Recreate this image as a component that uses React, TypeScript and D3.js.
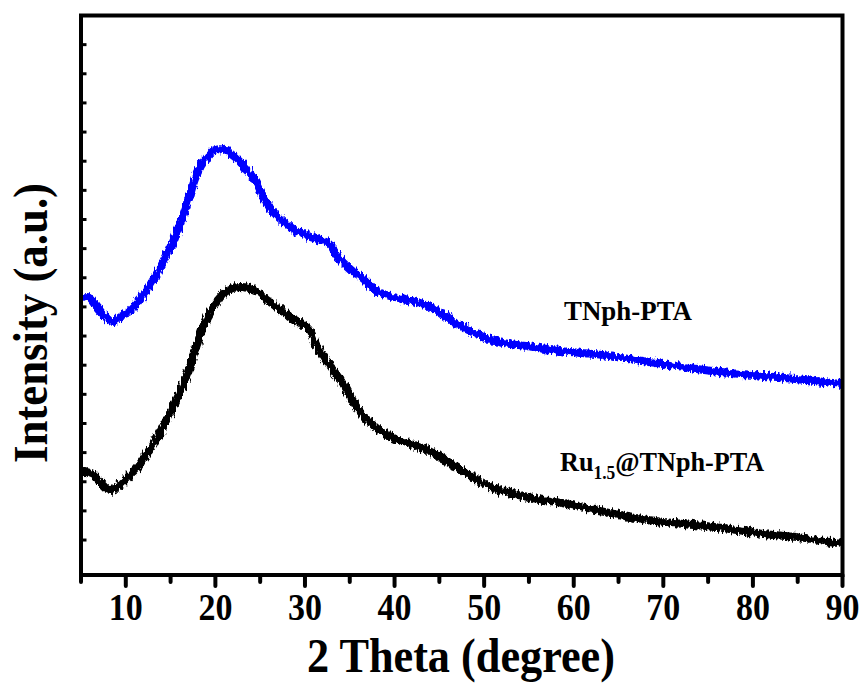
import React from "react";
import * as d3 from "d3";

// ---- data ----
const tnphAngle = [5, 5.9, 6.8, 7.9, 8.5, 9.4, 10.5, 12.1, 13.5, 14.7, 15.8, 16.9, 17.8, 18.8, 19.9, 21.0, 22.2, 23.3, 24.4, 25.5, 27.0, 28.9, 30.7, 32.6, 33.7, 35.2, 36.7, 37.8, 39.9, 43.6, 47.4, 51.1, 54.9, 58.7, 62.4, 66.2, 70.0, 73.7, 77.5, 81.2, 85.0, 90];
const tnphIntensity = [830, 833, 799, 761, 748, 765, 789, 847, 916, 984, 1063, 1156, 1245, 1303, 1338, 1338, 1314, 1279, 1235, 1166, 1108, 1063, 1039, 1019, 971, 926, 892, 858, 833, 806, 734, 683, 665, 648, 638, 621, 604, 587, 573, 563, 552, 535];

const ruAngle = [5, 6.0, 7.2, 8.1, 9.1, 10.2, 11.3, 12.4, 13.5, 14.7, 15.8, 16.9, 18.0, 19.1, 20.3, 21.4, 22.8, 24.4, 25.8, 27.3, 28.9, 30.3, 31.4, 32.9, 34.5, 36.0, 38.0, 39.9, 43.6, 47.4, 51.1, 54.9, 58.7, 62.4, 66.2, 70.0, 73.7, 77.5, 81.2, 85.0, 90];
const ruIntensity = [233, 230, 196, 172, 182, 216, 250, 298, 353, 422, 490, 573, 676, 765, 823, 858, 868, 858, 823, 789, 755, 731, 662, 593, 525, 446, 384, 350, 309, 240, 178, 147, 127, 103, 79, 62, 51, 38, 21, 10, -14];

const xMajorTicks = [10, 20, 30, 40, 50, 60, 70, 80, 90];
const xMinorTicks = [5, 15, 25, 35, 45, 55, 65, 75, 85];
const yTicks = [0, 100, 200, 300, 400, 500, 600, 700, 800, 900, 1000, 1100, 1200, 1300, 1400, 1500, 1600, 1700];

const W = 865;
const H = 684;
const left = 81;
const right = 842.5;
const top = 15.5;
const bottom = 575;

const FONT = "'Liberation Serif', 'Times New Roman', serif";

export default function App() {
  const x = d3.scaleLinear().domain([5, 90]).range([left, right]);
  const y = d3.scaleLinear().domain([-120, 1800]).range([bottom, top]);

  const line = d3
    .line<[number, number]>()
    .x((d) => x(d[0]))
    .y((d) => y(d[1]))
    .curve(d3.curveCatmullRom.alpha(0.5));

  const tnph = tnphAngle.map((a, i) => [a, tnphIntensity[i]] as [number, number]);
  const ru = ruAngle.map((a, i) => [a, ruIntensity[i]] as [number, number]);

  return (
    <svg
      width={W}
      height={H}
      style={{ position: "absolute", left: 0, top: 0, display: "block", background: "#fff" }}
    >
      <defs>
        <filter id="noise" x="-5%" y="-20%" width="110%" height="140%">
          <feTurbulence type="fractalNoise" baseFrequency="0.5 0.12" numOctaves="2" seed="3" result="t" />
          <feDisplacementMap in="SourceGraphic" in2="t" scale="8" xChannelSelector="R" yChannelSelector="G" />
        </filter>
        <clipPath id="plotclip">
          <rect x={left} y={top} width={right - left} height={bottom - top} />
        </clipPath>
      </defs>

      {/* data lines */}
      <g clipPath="url(#plotclip)">
        <path d={line(ru) || ""} fill="none" stroke="#000" strokeWidth={8} strokeLinejoin="round" filter="url(#noise)" />
        <path d={line(tnph) || ""} fill="none" stroke="#0000ff" strokeWidth={8} strokeLinejoin="round" filter="url(#noise)" />
      </g>

      {/* frame */}
      <rect x={left} y={top} width={right - left} height={bottom - top} fill="none" stroke="#000" strokeWidth={4} />

      {/* y ticks (inward, unlabeled) */}
      {yTicks.map((t) => (
        <line key={"y" + t} x1={left} x2={left + 5.5} y1={y(t)} y2={y(t)} stroke="#000" strokeWidth={3} />
      ))}

      {/* x ticks */}
      {xMajorTicks.map((t) => (
        <line key={"M" + t} x1={x(t)} x2={x(t)} y1={bottom} y2={bottom + 11} stroke="#000" strokeWidth={4} strokeLinecap="round" />
      ))}
      {xMinorTicks.map((t) => (
        <line key={"m" + t} x1={x(t)} x2={x(t)} y1={bottom} y2={bottom + 7} stroke="#000" strokeWidth={4} strokeLinecap="round" />
      ))}

      {/* x tick labels */}
      {xMajorTicks.map((t) => (
        <text
          key={"l" + t}
          x={x(t)}
          y={620}
          textAnchor="middle"
          fontFamily={FONT}
          fontWeight="bold"
          fontSize={38}
          textLength={34}
          lengthAdjust="spacingAndGlyphs"
        >
          {t}
        </text>
      ))}

      {/* axis titles */}
      <text
        x={461}
        y={672}
        textAnchor="middle"
        fontFamily={FONT}
        fontWeight="bold"
        fontSize={49}
        textLength={308}
        lengthAdjust="spacingAndGlyphs"
      >
        2 Theta (degree)
      </text>
      <text
        transform="translate(47,323) rotate(-90)"
        textAnchor="middle"
        fontFamily={FONT}
        fontWeight="bold"
        fontSize={49}
        textLength={280}
        lengthAdjust="spacingAndGlyphs"
      >
        Intensity (a.u.)
      </text>

      {/* series labels */}
      <text
        x={564}
        y={320}
        fontFamily={FONT}
        fontWeight="bold"
        fontSize={27}
        textLength={128}
        lengthAdjust="spacingAndGlyphs"
      >
        TNph-PTA
      </text>
      <text
        transform="translate(560,471) scale(0.97,1)"
        fontFamily={FONT}
        fontWeight="bold"
        fontSize={27}
      >
        Ru
        <tspan fontSize={18} dy={8}>1.5</tspan>
        <tspan dy={-8}>@TNph-PTA</tspan>
      </text>
    </svg>
  );
}
